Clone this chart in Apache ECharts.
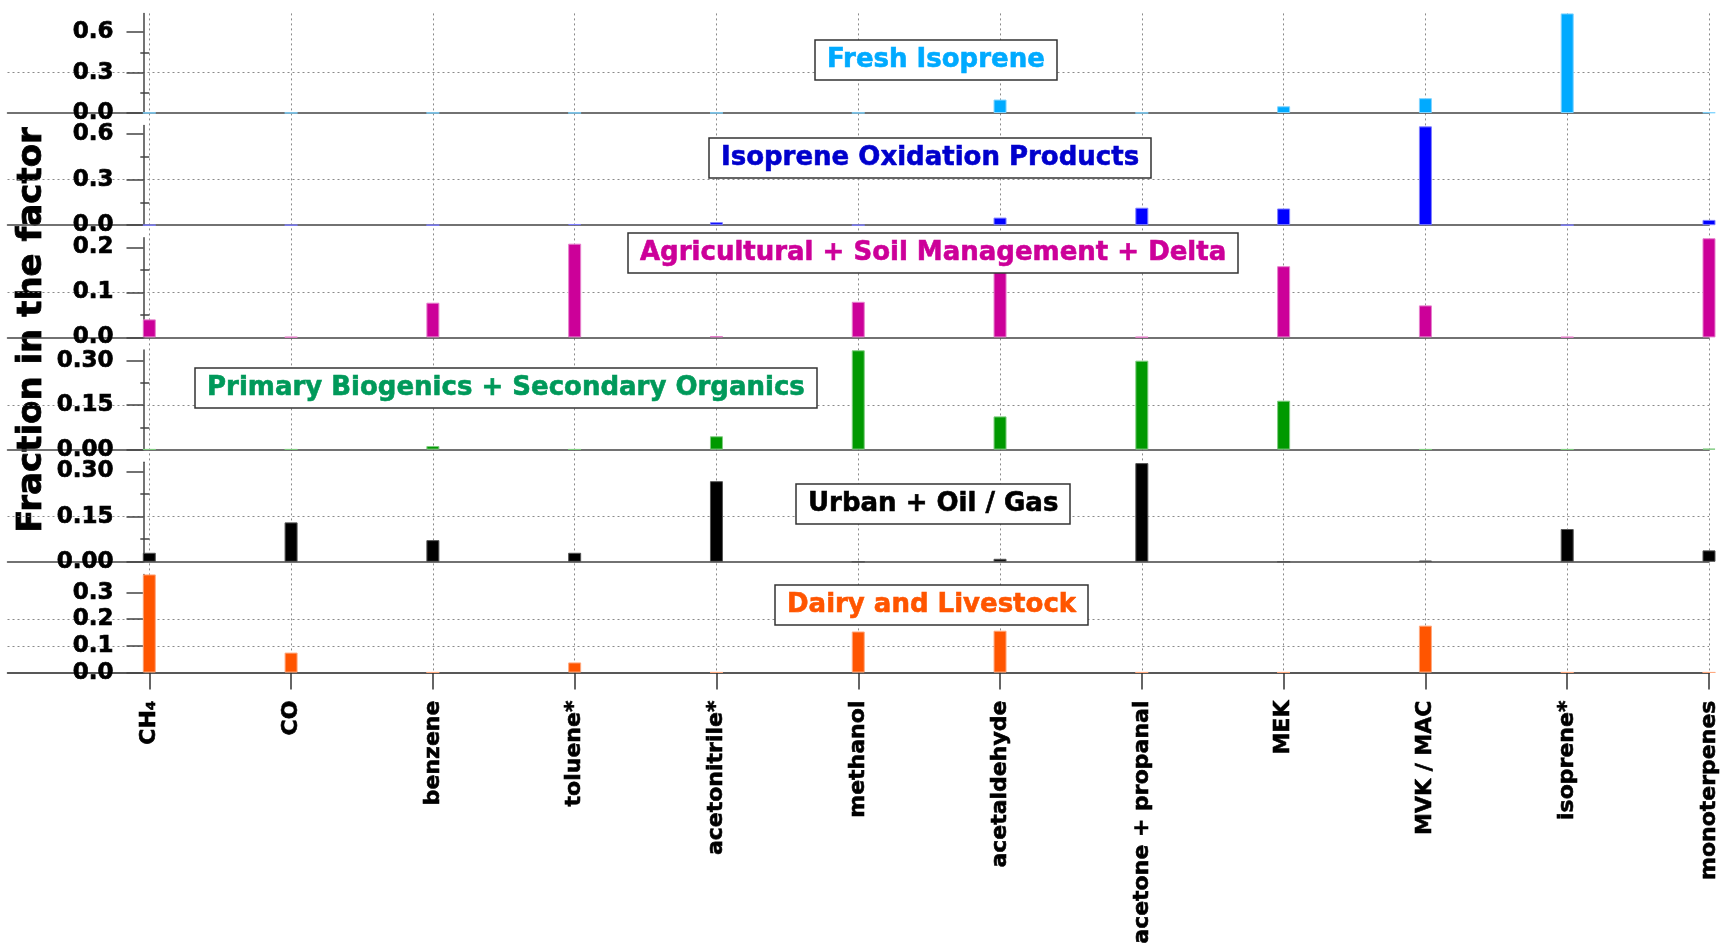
<!DOCTYPE html>
<html>
<head>
<meta charset="utf-8">
<title>Fraction in the factor</title>
<script src="https://cdn.jsdelivr.net/npm/echarts@6/dist/echarts.min.js"></script>
<style>
html, body { margin: 0; padding: 0; background: #fff; }
#factor_chart { width: 1722px; height: 947px; }
</style>
</head>
<body>
<div id="factor_chart"></div>
<script>
// 物种(横轴)
var categories = ['CH\u2084', 'CO', 'benzene', 'toluene*', 'acetonitrile*', 'methanol',
    'acetaldehyde', 'acetone + propanal', 'MEK', 'MVK / MAC', 'isoprene*', 'monoterpenes'];

// 六个因子的谱
var fresh_isoprene     = [0.001, 0.001, 0.001, 0.001, 0.001, 0.001, 0.10, 0.001, 0.05, 0.11, 0.74, 0.004];
var isoprene_oxidation = [0.001, 0.001, 0.001, 0.008, 0.02, 0.001, 0.05, 0.115, 0.11, 0.65, 0.001, 0.035];
var agricultural_soil  = [0.04, 0.001, 0.077, 0.208, 0.003, 0.079, 0.15, 0.001, 0.158, 0.071, 0.001, 0.22];
var primary_biogenics  = [0.001, 0.001, 0.012, 0.001, 0.045, 0.335, 0.112, 0.30, 0.165, 0.001, 0.001, 0.003];
var urban_oil_gas      = [0.03, 0.131, 0.072, 0.03, 0.268, 0, 0.01, 0.328, 0, 0.004, 0.109, 0.038];
var dairy_livestock    = [0.368, 0.075, 0.001, 0.038, 0.001, 0.154, 0.157, 0.001, 0.001, 0.176, 0.001, 0.001];

var factor_names = ['Fresh Isoprene', 'Isoprene Oxidation Products',
    'Agricultural + Soil Management + Delta', 'Primary Biogenics + Secondary Organics',
    'Urban + Oil / Gas', 'Dairy and Livestock'];

// 纵轴范围与刻度
var y_max = [0.74, 0.655, 0.221, 0.336, 0.331, 0.368];
var y_ticks = [[0, 0.3, 0.6], [0, 0.3, 0.6], [0, 0.1, 0.2], [0, 0.15, 0.30], [0, 0.15, 0.30], [0, 0.1, 0.2, 0.3]];
var y_minor_ticks = [[0.15, 0.45], [0.15, 0.45], [0.05, 0.15], [0.075, 0.225], [0.075, 0.225], []];
var y_digits = [1, 1, 1, 2, 2, 1];

var factor_data = [fresh_isoprene, isoprene_oxidation, agricultural_soil,
    primary_biogenics, urban_oil_gas, dairy_livestock];

// 样式
var bar_colors  = ['#00AAFF', '#0000FF', '#CC0099', '#009900', '#000000', '#FF5500'];
var edge_colors = ['#80D4FF', '#8080FF', '#E680CC', '#80CC80', '#555555', '#FFAA80'];
var text_colors = ['#00AAFF', '#0000CC', '#CC0099', '#00995A', '#000000', '#FF5500'];
var box_pos = [[815, 40], [709, 138], [628, 233], [195, 368], [796, 484], [775, 585]];

var LEFT = 7.5, RIGHT = 1709, AXIS_X = 143.5;
var FIRST_ZERO = 113, STEP = 112.2, PANEL_H = 99.6;
var FONT = '"DejaVu Sans", Verdana, sans-serif';
var GRID_LINE = {color: '#8a8a8a', width: 1, type: [2, 3]};

var category_index = categories.map(function (c, i) { return i; });

function build_option() {
    var grid = [], x_axis = [], y_axis = [], series = [], title = [];
    var n = factor_data.length;

    for (var i = 0; i < n; i++) {
        var bottom_panel = (i === n - 1);
        grid.push({left: LEFT, width: RIGHT - LEFT, top: FIRST_ZERO + i * STEP - PANEL_H, height: PANEL_H});

        x_axis.push({
            type: 'value', gridIndex: i, min: -1, max: 11, interval: 1,
            axisLine: {show: true, onZero: false, lineStyle: {color: bottom_panel ? '#222' : '#444', width: 1.5}},
            axisTick: {show: bottom_panel, customValues: category_index, length: 17,
                lineStyle: {color: '#333', width: 1.5}},
            axisLabel: {
                show: bottom_panel, customValues: category_index, rotate: 90, margin: 28,
                fontFamily: FONT, fontWeight: 'bold', fontSize: 22, color: '#000',
                textBorderColor: '#000', textBorderWidth: 0.6,
                formatter: function (v) { return categories[v] || ''; }
            },
            splitLine: {show: false}
        });

        y_axis.push({
            type: 'value', gridIndex: i, position: 'left', min: 0, max: y_max[i],
            interval: y_ticks[i][1], offset: -(AXIS_X - LEFT),
            axisLine: {show: true, onZero: false, lineStyle: {color: '#444', width: 1.5}},
            axisTick: {show: true, customValues: y_ticks[i], length: 17, lineStyle: {color: '#444', width: 1.5}},
            axisLabel: {
                customValues: y_ticks[i], margin: 30,
                fontFamily: FONT, fontWeight: 'bold', fontSize: 23, color: '#000',
                textBorderColor: '#000', textBorderWidth: 0.7,
                formatter: (function (d) { return function (v) { return v.toFixed(d); }; })(y_digits[i])
            },
            splitLine: {show: true, showMinLine: false, showMaxLine: false, lineStyle: GRID_LINE}
        });

        series.push({
            type: 'bar', xAxisIndex: i, yAxisIndex: i, barWidth: 13, clip: false,
            data: factor_data[i].map(function (v, k) { return [k, v]; }),
            itemStyle: {color: bar_colors[i], borderColor: edge_colors[i], borderWidth: 1}
        });

        title.push({
            text: factor_names[i], left: box_pos[i][0], top: box_pos[i][1],
            padding: [6, 12], backgroundColor: '#fff', borderColor: '#333', borderWidth: 1.5,
            textStyle: {color: text_colors[i], fontFamily: FONT, fontWeight: 'bold', fontSize: 26, lineHeight: 28,
                textBorderColor: text_colors[i], textBorderWidth: 0.6}
        });
    }

    // 次刻度
    for (var j = 0; j < n; j++) {
        y_axis.push({
            type: 'value', gridIndex: j, position: 'left', min: 0, max: y_max[j],
            offset: -(AXIS_X - LEFT),
            axisLine: {show: false},
            axisTick: {show: y_minor_ticks[j].length > 0, customValues: y_minor_ticks[j], length: 9,
                lineStyle: {color: '#444', width: 1.5}},
            axisLabel: {show: false},
            splitLine: {show: false}
        });
    }

    // 竖直虚线贯穿所有面板
    grid.push({left: LEFT, width: RIGHT - LEFT, top: FIRST_ZERO - PANEL_H, height: (n - 1) * STEP + PANEL_H});
    x_axis.push({
        type: 'value', gridIndex: n, min: -1, max: 11, interval: 1,
        axisLine: {show: false}, axisTick: {show: false}, axisLabel: {show: false},
        splitLine: {show: true, showMinLine: false, lineStyle: GRID_LINE}
    });
    y_axis.push({type: 'value', gridIndex: n, show: false});

    return {
        animation: false,
        backgroundColor: '#fff',
        title: title,
        grid: grid,
        xAxis: x_axis,
        yAxis: y_axis,
        series: series,
        graphic: [{
            type: 'text', x: 32, y: 330, rotation: Math.PI / 2,
            style: {text: 'Fraction in the factor', fill: '#000', font: 'bold 34px ' + FONT,
                stroke: '#000', lineWidth: 0.8, align: 'center', verticalAlign: 'middle'}
        }]
    };
}

// 绘制图表
echarts.init(document.getElementById('factor_chart')).setOption(build_option());
</script>
</body>
</html>
